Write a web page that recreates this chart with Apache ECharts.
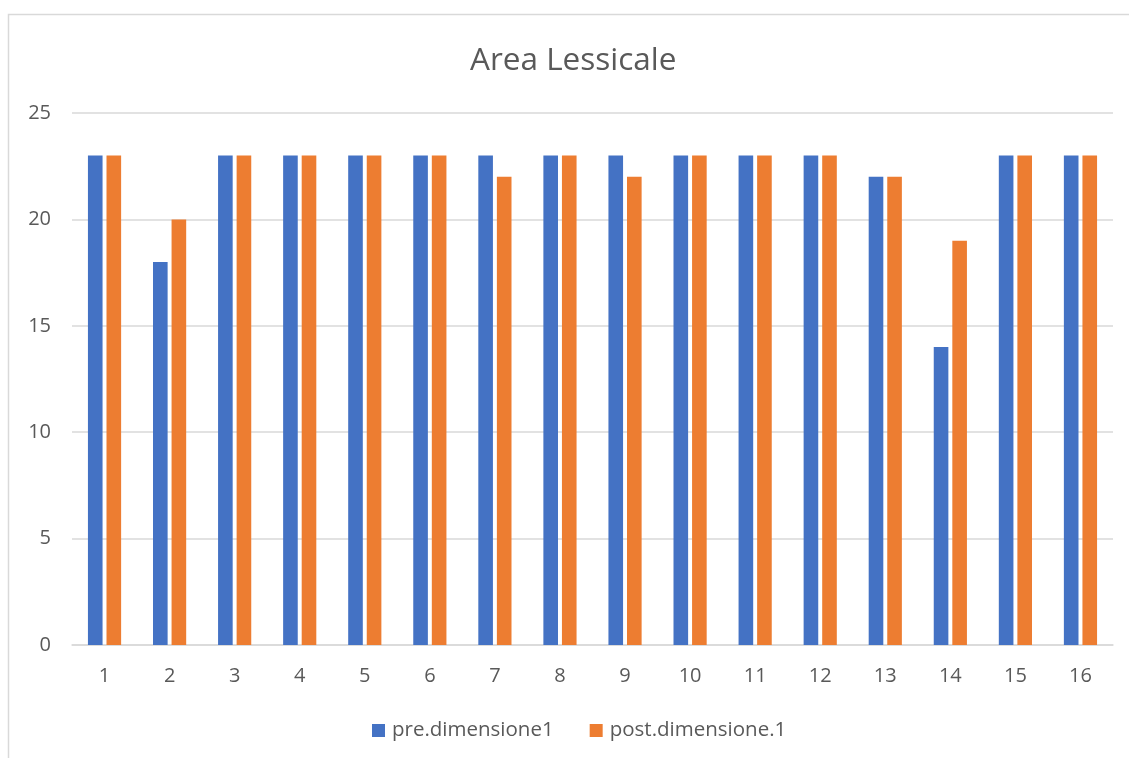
<!DOCTYPE html>
<html>
<head>
<meta charset="utf-8">
<script src="https://cdn.jsdelivr.net/npm/echarts@6/dist/echarts.min.js"></script>
<style>
  html, body { margin: 0; padding: 0; background: #fff; }
  #chart { width: 1129px; height: 758px; }
</style>
</head>
<body>
<div id="chart"></div>
<script>
var categories = ['1', '2', '3', '4', '5', '6', '7', '8', '9', '10', '11', '12', '13', '14', '15', '16'];
var preValues = [23, 18, 23, 23, 23, 23, 23, 23, 23, 23, 23, 23, 22, 14, 23, 23];
var postValues = [23, 20, 23, 23, 23, 23, 22, 23, 22, 23, 23, 23, 22, 19, 23, 23];
var seriesNames = ['pre.dimensione1', 'post.dimensione.1'];

var myChart = echarts.init(document.getElementById('chart'));
var font = '"Open Sans", sans-serif';
var option = {
    animation: false,
    color: ['#4472C4', '#ED7D31'],
    title: {
        text: 'Area Lessicale',
        left: 470,
        top: 45,
        padding: 0,
        textStyle: { fontFamily: font, fontSize: 31.5, fontWeight: 'normal', color: '#595959' }
    },
    graphic: [{
        type: 'rect',
        shape: { x: 8.5, y: 14.5, width: 1200, height: 900 },
        style: { fill: 'none', stroke: '#d9d9d9', lineWidth: 1.5 },
        silent: true
    }],
    legend: {
        top: 720,
        left: 372,
        padding: 0,
        itemWidth: 13,
        itemHeight: 13,
        itemGap: 36,
        icon: 'rect',
        textStyle: { fontFamily: font, fontSize: 20.5, color: '#595959', padding: [0, 0, 0, 2] },
        data: seriesNames
    },
    grid: { left: 72, right: 16, top: 113, bottom: 113 },
    xAxis: {
        type: 'category',
        data: categories,
        axisLine: { lineStyle: { color: '#d9d9d9', width: 1.5 } },
        axisTick: { show: false },
        axisLabel: { fontFamily: font, fontSize: 20, color: '#595959', margin: 21 }
    },
    yAxis: {
        type: 'value',
        min: 0,
        max: 25,
        interval: 5,
        axisLine: { show: false },
        axisTick: { show: false },
        splitLine: { lineStyle: { color: '#d9d9d9', width: 1.5 } },
        axisLabel: { fontFamily: font, fontSize: 20, color: '#595959', margin: 21 }
    },
    series: [{
        name: seriesNames[0],
        type: 'bar',
        data: preValues,
        barGap: '27%',
        barCategoryGap: '49%'
    }, {
        name: seriesNames[1],
        type: 'bar',
        data: postValues,
        barGap: '27%',
        barCategoryGap: '49%'
    }]
};
myChart.setOption(option);
</script>
</body>
</html>
